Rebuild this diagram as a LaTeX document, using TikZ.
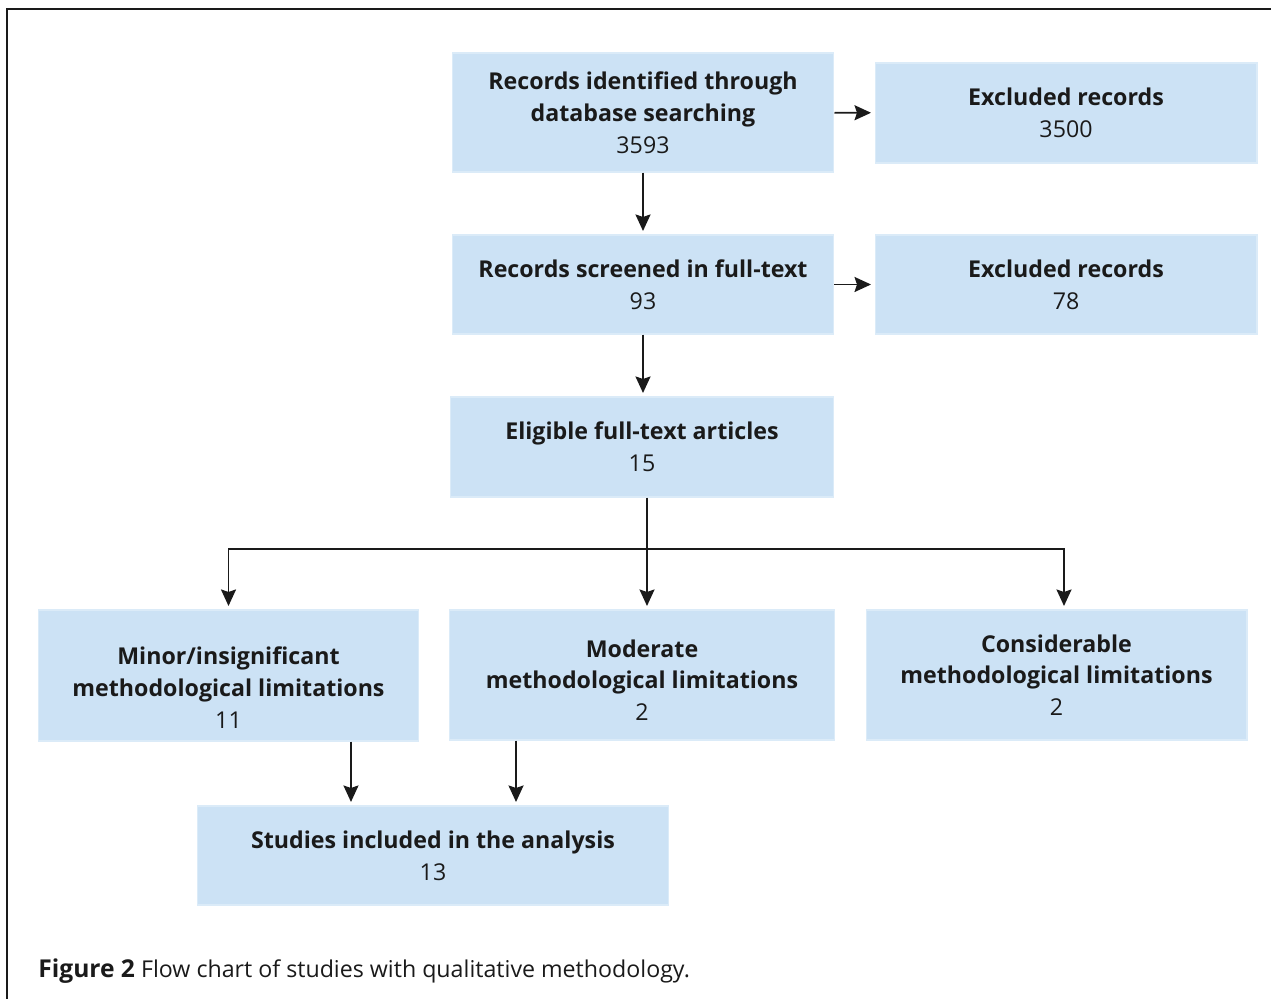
\documentclass[tikz,border=0pt]{standalone}
\usepackage{fontspec}
\setmainfont{Open Sans}
\usepackage{tikz}
\usetikzlibrary{arrows.meta,calc}
\definecolor{boxblue}{RGB}{204,226,245}
\definecolor{inkgray}{RGB}{26,26,26}

\tikzset{
  flowbox/.style={fill=boxblue, draw=boxblue!70!white, line width=0.6pt, align=center,
    text=inkgray, inner sep=0pt, font=\fontsize{13.2}{18.1}\selectfont},
  flowtext/.style={align=center, text=inkgray, inner sep=0pt, font=\fontsize{13.2}{18.1}\selectfont},
  flowarrow/.style={draw=inkgray, line width=1.1pt, -{Stealth[length=0.33cm,width=0.3cm,inset=0.05cm]},
    shorten >=0.07cm}
}

\begin{document}
\begin{tikzpicture}[x=0.02cm,y=-0.02cm]
  \useasboundingbox (0,0) rectangle (1271,999);
  \draw[line width=1.2pt,inkgray] (1271,9) -- (7,9) -- (7,999);

  % top column
  \node[flowbox, minimum width=7.64cm, minimum height=2.38cm] (ident) at (643,112.5)
    {\textbf{Records identified through}\\\textbf{database searching}\\3593};
  \node[flowbox, minimum width=7.64cm, minimum height=2.0cm] (excl1) at (1066,113)
    {\textbf{Excluded records}\\3500};
  \node[flowbox, minimum width=7.64cm, minimum height=1.98cm] (screen) at (643,284.5)
    {\textbf{Records screened in full-text}\\93};
  \node[flowbox, minimum width=7.64cm, minimum height=1.98cm] (excl2) at (1066,284.5)
    {\textbf{Excluded records}\\78};
  \node[flowbox, minimum width=7.68cm, minimum height=2.0cm] (elig) at (642,447)
    {\textbf{Eligible full-text articles}\\15};

  % quality groups
  \node[flowbox, minimum width=7.62cm, minimum height=2.62cm,
    label={[flowtext, yshift=-0.24cm]center:{\textbf{Minor/insignificant}\\\textbf{methodological limitations}\\11}}]
    (minor) at (228.5,675.5) {};
  \node[flowbox, minimum width=7.72cm, minimum height=2.6cm,
    label={[flowtext, yshift=-0.1cm]center:{\textbf{Moderate}\\\textbf{methodological limitations}\\2}}]
    (moder) at (642,675) {};
  \node[flowbox, minimum width=7.62cm, minimum height=2.6cm] (consid) at (1056.5,675)
    {\textbf{Considerable}\\\textbf{methodological limitations}\\2};
  \node[flowbox, minimum width=9.44cm, minimum height=1.98cm] (incl) at (433,855.5)
    {\textbf{Studies included in the analysis}\\13};

  % connectors
  \draw[flowarrow] (ident) -- (excl1);
  \draw[flowarrow] (screen) -- (excl2);
  \draw[flowarrow] (ident) -- (screen);
  \draw[flowarrow] (screen.south) -- (screen.south |- elig.north);
  \coordinate (fork) at (647,549);
  \draw[flowarrow] (elig.south -| fork) -- (moder.north -| fork);
  \draw[flowarrow] (fork) -| (minor);
  \draw[flowarrow] (fork) -| ([xshift=0.15cm]consid.north);
  \draw[flowarrow] ([xshift=2.45cm]minor.south) -- ([xshift=2.45cm]minor.south |- incl.north);
  \draw[flowarrow] ([xshift=-2.52cm]moder.south) -- ([xshift=-2.52cm]moder.south |- incl.north);

  % caption
  \node[anchor=base west, inner sep=0pt, text=inkgray, font=\fontsize{13.2}{16}\selectfont] (caption) at (38,977)
    {{\fontsize{14}{16}\selectfont\textbf{Figure 2}} Flow chart of studies with qualitative methodology.};
\end{tikzpicture}
\end{document}
